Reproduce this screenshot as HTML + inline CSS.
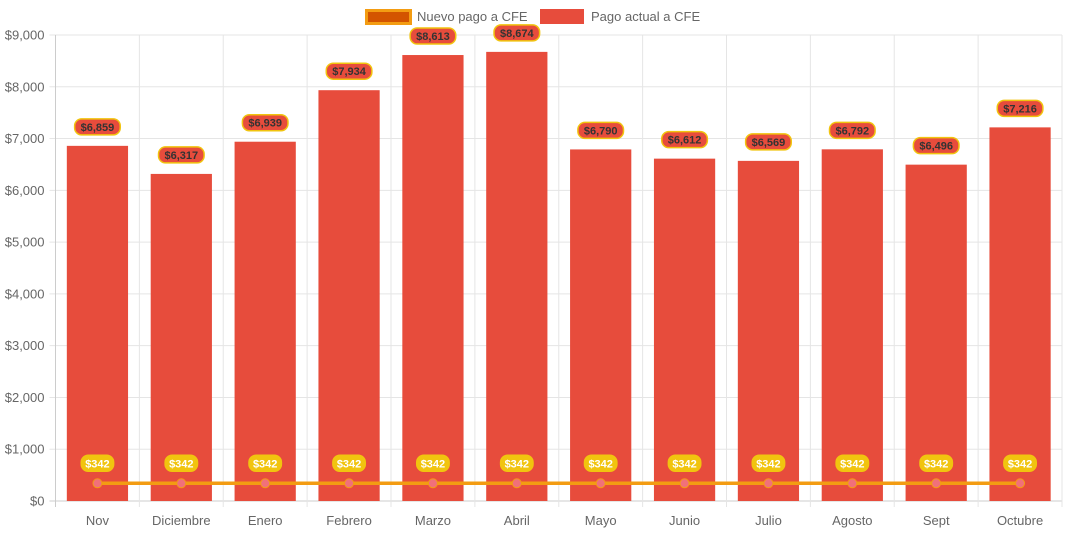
<!DOCTYPE html>
<html><head><meta charset="utf-8"><style>
body{margin:0;background:#fff;}
svg{display:block;font-family:"Liberation Sans",Arial,sans-serif;}
</style></head><body>
<svg id="chart" width="1068" height="533"></svg>
<script>
const categories=["Nov","Diciembre","Enero","Febrero","Marzo","Abril","Mayo","Junio","Julio","Agosto","Sept","Octubre"];
const currentPay=[6859,6317,6939,7934,8613,8674,6790,6612,6569,6792,6496,7216];
const newPay=[342,342,342,342,342,342,342,342,342,342,342,342];
const yTicks=[0,1000,2000,3000,4000,5000,6000,7000,8000,9000];
const NS="http://www.w3.org/2000/svg";
const svg=document.getElementById('chart');
const L=55.5,R=1062,T=35,B=501,yMax=9000;
const bw=(R-L)/categories.length;
const y=v=>B-(v/yMax)*(B-T);
const xc=i=>L+bw*(i+0.5);
function mk(tag,attrs,parent){const e=document.createElementNS(NS,tag);for(const k in attrs)e.setAttribute(k,attrs[k]);(parent||svg).appendChild(e);return e;}
const fmt=v=>'$'+v.toLocaleString('en-US');
yTicks.forEach(t=>{
  const g=mk('line',{x1:L-6,x2:R,y1:y(t),y2:y(t),stroke:t===0?'#ccc':'#e5e5e5','stroke-width':1});
  
  
  const tx=mk('text',{x:L-11,y:y(t)+4.5,'text-anchor':'end','font-size':13,fill:'#666'});
  tx.textContent=fmt(t);
  
  
});
for(let i=0;i<=categories.length;i++){
  const gx=L+bw*i;
  const g=mk('line',{x1:gx,x2:gx,y1:T,y2:B+6,stroke:i===0?'#ccc':'#e5e5e5','stroke-width':1});
  
  
}
categories.forEach((c,i)=>{
  const w=bw*0.73;
  const b=mk('rect',{x:xc(i)-w/2,y:y(currentPay[i]),width:w,height:B-y(currentPay[i]),fill:'#e74c3c'});
  
  
  const tx=mk('text',{x:xc(i),y:B+24,'text-anchor':'middle','font-size':13,fill:'#666'});
  tx.textContent=c;
  
  
});
const pts=newPay.map((v,i)=>xc(i)+','+y(v)).join(' ');
const ln=mk('polyline',{points:pts,fill:'none',stroke:'#f39c12','stroke-width':3.5});


newPay.forEach((v,i)=>{
  const p=mk('circle',{cx:xc(i),cy:y(v),r:4.5,fill:'#f1707a',stroke:'#f39c12','stroke-width':1});
  
  
});
function badge(cx,cy,text,fill,stroke,color,name){
  const w=text.length*6.6+6;
  const r=mk('rect',{x:cx-w/2,y:cy-8,width:w,height:16,rx:7,fill:fill,stroke:stroke,'stroke-width':1.5});
  
  
  const t=mk('text',{x:cx,y:cy+4,'text-anchor':'middle','font-size':11,'font-weight':'bold',fill:color});
  t.textContent=text;
  
  
}
currentPay.forEach((v,i)=>badge(xc(i),y(v)-19,fmt(v),'#e74c3c','#f1c40f','#333','bar-value-label'));
newPay.forEach((v,i)=>badge(xc(i),y(v)-20,fmt(v),'#f1c40f','#f1c40f','#fff','line-value-label'));
const lg=mk('g',{});


const l1=mk('rect',{x:366.5,y:10.5,width:44,height:13,fill:'#d35400',stroke:'#f39c12','stroke-width':3},lg);


const t1=mk('text',{x:417,y:21,'font-size':13,fill:'#666'},lg);t1.textContent='Nuevo pago a CFE';


const l2=mk('rect',{x:540,y:9,width:44,height:15,fill:'#e74c3c'},lg);


const t2=mk('text',{x:591,y:21,'font-size':13,fill:'#666'},lg);t2.textContent='Pago actual a CFE';


</script>
</body></html>
